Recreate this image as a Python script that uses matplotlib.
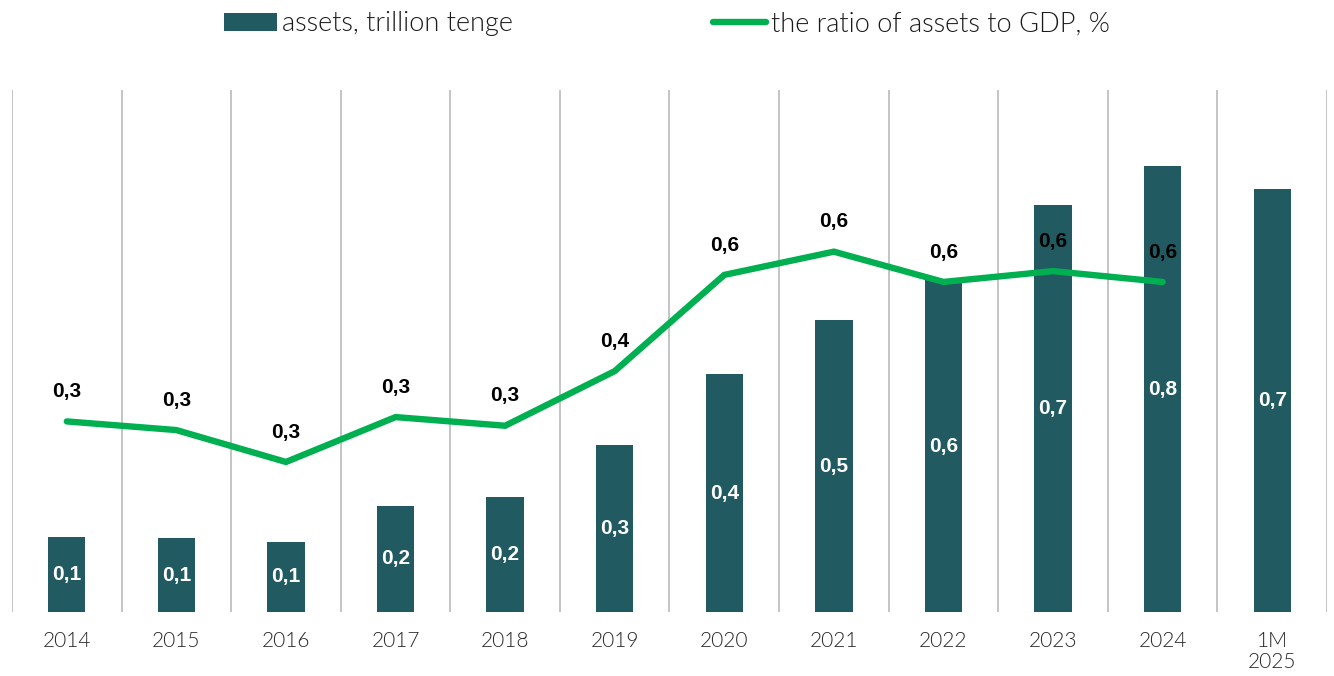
import matplotlib
matplotlib.use("Agg")
import matplotlib.pyplot as plt
from matplotlib.lines import Line2D
from matplotlib.patches import Patch
import numpy as np

categories = ['2014', '2015', '2016', '2017', '2018', '2019', '2020', '2021', '2022', '2023', '2024', '1M\n2025']
assets = [0.135, 0.133, 0.126, 0.191, 0.207, 0.300, 0.428, 0.525, 0.597, 0.732, 0.802, 0.761]
asset_labels = ['0,1', '0,1', '0,1', '0,2', '0,2', '0,3', '0,4', '0,5', '0,6', '0,7', '0,8', '0,7']
ratio = [0.335, 0.319, 0.260, 0.343, 0.327, 0.428, 0.606, 0.649, 0.593, 0.613, 0.593]

BAR_COLOR = '#215A61'
LINE_COLOR = '#00B050'
GRID_COLOR = '#BFBFBF'

fig = plt.figure(figsize=(13.34, 6.76), dpi=100)
ax = fig.add_axes([12/1334, 1 - 612/676, (1327 - 12)/1334, (612 - 90)/676])
ax2 = ax.twinx()

x = np.arange(len(categories))
bars = ax.bar(x, assets, width=0.34, color=BAR_COLOR, zorder=2)
ax.set_xlim(-0.5, len(categories) - 0.5)
ax.set_ylim(0, 0.939)

for xi, v, lab in zip(x, assets, asset_labels):
    ax.text(xi, v / 2, lab, ha='center', va='center', color='white',
            fontsize=15, fontweight='bold', family='Liberation Sans', zorder=3)

xr = x[:len(ratio)]
ax2.plot(xr, ratio, color=LINE_COLOR, lw=4.6, solid_capstyle='round', solid_joinstyle='miter', zorder=4)
ax2.set_ylim(-0.0175, 0.948)
for xi, v in zip(xr, ratio):
    ax2.annotate(f"{v:.1f}".replace('.', ','), (xi, v), xytext=(0, 21.5), textcoords='offset points',
                 ha='center', va='center', fontsize=15, fontweight='bold', family='Liberation Sans', color='black')

# grid between categories
ax.set_xticks(np.arange(-0.5, len(categories), 1.0), minor=True)
ax.grid(True, axis='x', which='minor', color=GRID_COLOR, lw=1.3, zorder=0)
ax.grid(False, axis='x', which='major')
ax.set_xticks(x)
ax.set_xticklabels(categories, fontsize=15, family='Lato', fontweight=300, color='#262626',
                   linespacing=1.05)
ax.tick_params(axis='x', which='both', length=0, pad=14)
ax.set_yticks([])
ax2.set_yticks([])
for a in (ax, ax2):
    for s in a.spines.values():
        s.set_visible(False)

handles = [Patch(facecolor=BAR_COLOR, edgecolor='none'),
           Line2D([0], [0], color=LINE_COLOR, lw=4.6, solid_capstyle='round')]
fig.legend(handles, ['assets, trillion tenge', 'the ratio of assets to GDP, %'],
           loc='center', bbox_to_anchor=(0.5, 1 - 24/676), ncol=2, frameon=False,
           prop={'family': 'Lato', 'weight': 300, 'size': 19.5},
           handlelength=1.95, handleheight=0.6, handletextpad=0.19, columnspacing=7.4,
           labelcolor='#1a1a1a')

fig.savefig('out.png', dpi=100)
